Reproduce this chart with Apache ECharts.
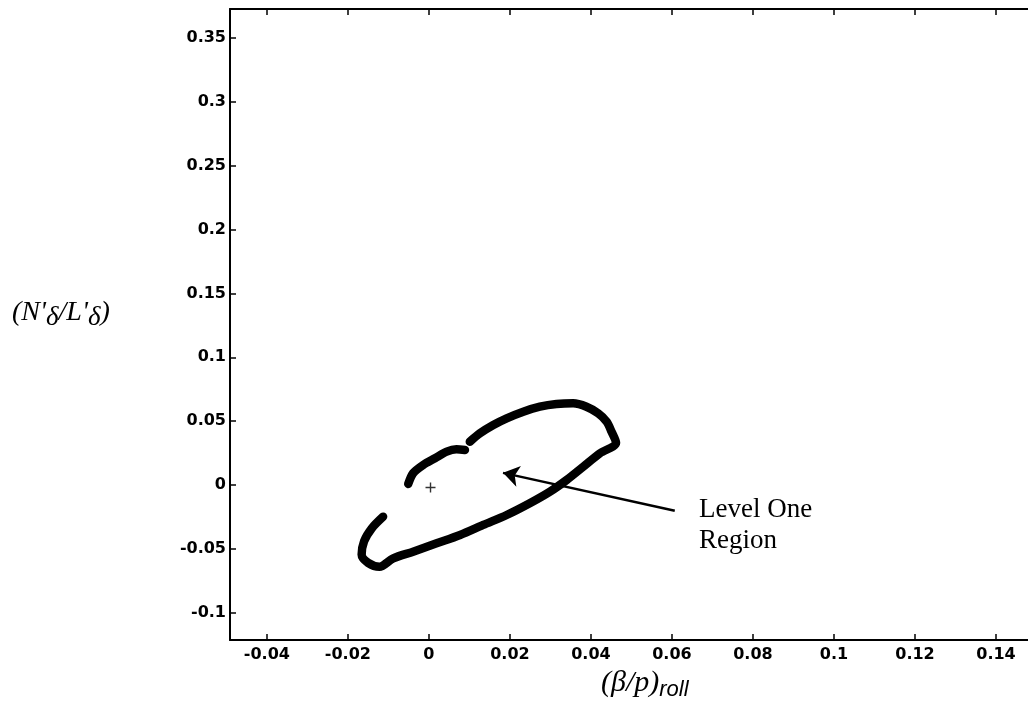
<!DOCTYPE html>
<html><head><meta charset="utf-8">
<script src="https://cdn.jsdelivr.net/npm/echarts@6/dist/echarts.min.js"></script>
<style>html,body{margin:0;padding:0;background:#fff}#c{width:1028px;height:726px}</style>
</head><body><div id="c"></div>
<script>
const xTicks = [-0.04, -0.02, 0, 0.02, 0.04, 0.06, 0.08, 0.1, 0.12, 0.14];
const yTicks = [-0.1, -0.05, 0, 0.05, 0.1, 0.15, 0.2, 0.25, 0.3, 0.35];

// short upper-left arc
const arcX = [-0.0051, -0.0039, -0.0014, 0.0015, 0.0044, 0.0068, 0.0089];
const arcY = [0.0008, 0.0092, 0.0157, 0.0209, 0.0261, 0.0279, 0.0274];

// main loop
const loopX = [0.0101, 0.0126, 0.0159, 0.0192, 0.0233, 0.0274, 0.0315, 0.0356, 0.0389, 0.0418, 0.0439, 0.0451, 0.0462,
  0.0422, 0.0381, 0.0340, 0.0299, 0.0249, 0.0192, 0.0134, 0.0077, 0.0019, -0.0039, -0.0088, -0.0122, -0.0150, -0.0166, -0.0160, -0.0141, -0.0113];
const loopY = [0.0339, 0.0405, 0.0470, 0.0522, 0.0574, 0.0613, 0.0634, 0.0640, 0.0613, 0.0561, 0.0496, 0.0417, 0.0330,
  0.0248, 0.0143, 0.0039, -0.0052, -0.0143, -0.0235, -0.0313, -0.0392, -0.0457, -0.0522, -0.0574, -0.0640, -0.0610, -0.0545, -0.0440, -0.0339, -0.0248];

const originMark = [0.0004, -0.002];
const arrowTail = [0.0607, -0.0202];
const arrowTip = [0.0183, 0.0095];
const annotationText = 'Level One\nRegion';

const zip = (a, b) => a.map((v, i) => [v, b[i]]);
const fmt = v => String(parseFloat(Number(v).toFixed(4)));

// build a run of text pieces (main + lowered subscripts) as graphic children
const mctx = document.createElement('canvas').getContext('2d');
function textRun(x0, yMid, pieces) {
  let x = x0;
  return pieces.map(p => {
    const font = (p.style || 'italic') + ' ' + p.size + 'px "' + p.family + '"';
    mctx.font = font;
    const w = mctx.measureText(p.t).width;
    const el = {
      type: 'text', x: x, y: yMid + (p.dy || 0),
      style: { text: p.t, font: font, fill: '#000', verticalAlign: 'middle', align: 'left' }
    };
    x += w + (p.gap || 0);
    return el;
  });
}

const tickFont = { fontFamily: 'DejaVu Sans', fontWeight: 'bold', fontSize: 16, color: '#000' };
const axisLine = { show: true, onZero: false, lineStyle: { color: '#000', width: 2 } };
const tickStyle = { show: true, inside: true, length: 6, lineStyle: { color: '#000', width: 1.5 } };

const chart = echarts.init(document.getElementById('c'), null, { renderer: 'canvas' });
chart.setOption({
  animation: false,
  backgroundColor: '#fff',
  grid: { left: 230, right: 0, top: 9, bottom: 86, containLabel: false },
  xAxis: [{
    type: 'value', position: 'bottom', min: -0.0491, max: 0.1479,
    axisLine: axisLine,
    axisTick: Object.assign({ customValues: xTicks }, tickStyle),
    axisLabel: Object.assign({ show: true, margin: 7, customValues: xTicks, formatter: fmt }, tickFont),
    splitLine: { show: false }
  }, {
    type: 'value', position: 'top', min: -0.0491, max: 0.1479,
    axisLine: axisLine,
    axisTick: Object.assign({ customValues: xTicks }, tickStyle),
    axisLabel: { show: false },
    splitLine: { show: false }
  }],
  yAxis: [{
    type: 'value', min: -0.1214, max: 0.3728,
    axisLine: axisLine,
    axisTick: Object.assign({ customValues: yTicks }, tickStyle),
    axisLabel: Object.assign({ show: true, margin: 4, customValues: yTicks, formatter: fmt }, tickFont),
    splitLine: { show: false }
  }],
  series: [{
    type: 'line', data: zip(arcX, arcY), showSymbol: false, smooth: 0.3,
    lineStyle: { color: '#000', width: 8.5, cap: 'round', join: 'round' }
  }, {
    type: 'line', data: zip(loopX, loopY), showSymbol: false, smooth: 0.3,
    lineStyle: { color: '#000', width: 8.5, cap: 'round', join: 'round' }
  }, {
    type: 'scatter', data: [originMark], symbol: 'path://M4.3,0h1.4v4.3h4.3v1.4h-4.3v4.3h-1.4v-4.3h-4.3v-1.4h4.3z',
    symbolSize: 10, itemStyle: { color: '#000' }
  }, {
    type: 'lines', coordinateSystem: 'cartesian2d',
    data: [{ coords: [arrowTail, arrowTip] }],
    symbol: ['none', 'arrow'], symbolSize: [0, 16],
    lineStyle: { color: '#000', width: 2.5, opacity: 1, curveness: 0 }
  }],
  graphic: [{
    type: 'group', children: textRun(12, 313, [
      { t: "(N'", size: 28, family: 'Liberation Serif' },
      { t: 'δ', size: 27, family: 'Liberation Serif', dy: 5 },
      { t: "/L'", size: 28, family: 'Liberation Serif' },
      { t: 'δ', size: 27, family: 'Liberation Serif', dy: 5 },
      { t: ')', size: 28, family: 'Liberation Serif' }
    ])
  }, {
    type: 'group', children: textRun(601, 683, [
      { t: '(β/p)', size: 30, family: 'Liberation Serif' },
      { t: 'roll', size: 22, family: 'Liberation Sans', dy: 7 }
    ])
  }, {
    type: 'text', left: 699, top: 494,
    style: {
      text: annotationText, fontFamily: 'Liberation Serif', fontSize: 27, lineHeight: 31, fill: '#000'
    }
  }]
});
</script>
</body></html>
